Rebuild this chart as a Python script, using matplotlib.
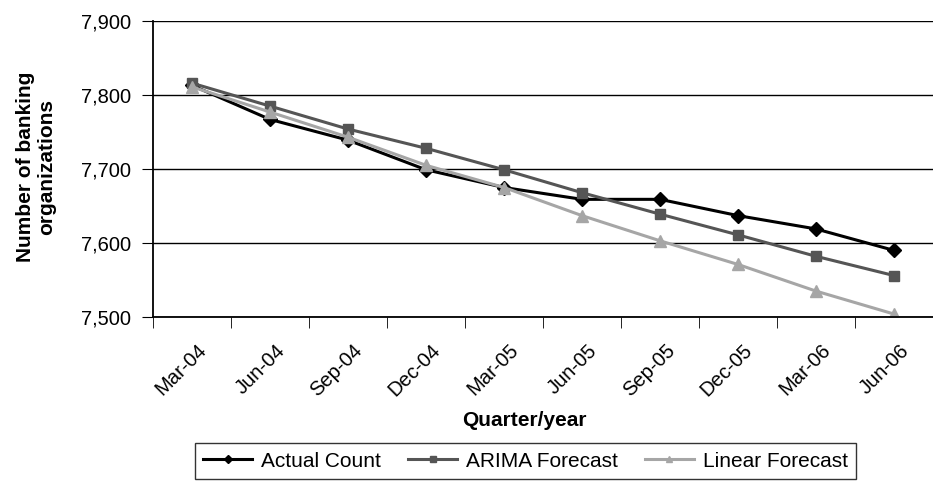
import numpy as np
import matplotlib.pyplot as plt
import matplotlib.transforms as mtransforms
from matplotlib.ticker import FuncFormatter

quarters = ["Mar-04", "Jun-04", "Sep-04", "Dec-04", "Mar-05",
            "Jun-05", "Sep-05", "Dec-05", "Mar-06", "Jun-06"]
actual = [7813, 7767, 7739, 7699, 7675, 7659, 7659, 7637, 7619, 7590]
arima = [7816, 7785, 7754, 7728, 7699, 7668, 7639, 7611, 7582, 7556]
linear = [7811, 7777, 7743, 7705, 7675, 7637, 7603, 7571, 7535, 7504]

plt.rcParams['font.family'] = ['Liberation Sans', 'DejaVu Sans']

W, H = 933, 482
fig = plt.figure(figsize=(W / 100, H / 100), dpi=100)
ax = fig.add_axes([153 / W, 1 - 317 / H, 780 / W, 296 / H])

x = np.arange(len(quarters))
ax.plot(x, actual, color='black', lw=2.2, marker='D', ms=7, label='Actual Count')
ax.plot(x, arima, color='#555555', lw=2.2, marker='s', ms=7.5, label='ARIMA Forecast')
ax.plot(x, linear, color='#a6a6a6', lw=2.2, marker='^', ms=9, label='Linear Forecast')

ax.set_xlim(-0.5, len(quarters) - 0.5)
ax.set_ylim(7500, 7900)
ax.set_yticks(range(7500, 7901, 100))
ax.yaxis.set_major_formatter(FuncFormatter(lambda v, p: f"{int(v):,}"))
ax.yaxis.grid(True, color='black', lw=1)
ax.set_axisbelow(True)

ax.set_xticks(x)
ax.set_xticklabels(quarters, rotation=45, ha='right', rotation_mode='anchor', fontsize=14.5)
ax.tick_params(axis='x', which='major', length=0, pad=17)
shift = mtransforms.ScaledTranslation(5 / 100, 0, fig.dpi_scale_trans)
for lbl in ax.get_xticklabels():
    lbl.set_transform(lbl.get_transform() + shift)
ax.set_xticks(np.arange(-0.5, len(quarters), 1), minor=True)
ax.tick_params(axis='x', which='minor', length=8, direction='out', color='black')
ax.tick_params(axis='y', labelsize=14.5, length=8, pad=8, direction='out')

for s in ['top', 'right']:
    ax.spines[s].set_visible(False)
ax.spines['left'].set_linewidth(1.3)
ax.spines['bottom'].set_linewidth(1.3)

fig.text(524 / W, 1 - 420 / H, "Quarter/year", fontsize=15, fontweight='bold',
         ha='center', va='center')
fig.text(36 / W, 1 - 167 / H, "Number of banking\norganizations", fontsize=15,
         fontweight='bold', rotation=90, ha='center', va='center',
         multialignment='center', linespacing=1.1)

leg = fig.legend(loc='lower center', bbox_to_anchor=(525.5 / W, 3 / H), ncol=3,
                 fontsize=15, frameon=True, fancybox=False, edgecolor='black',
                 handlelength=2.35, handletextpad=0.43, columnspacing=1.3,
                 borderpad=0.4, borderaxespad=0.0, markerscale=0.55)
leg.get_frame().set_linewidth(1)

plt.savefig('out.png', dpi=100)
